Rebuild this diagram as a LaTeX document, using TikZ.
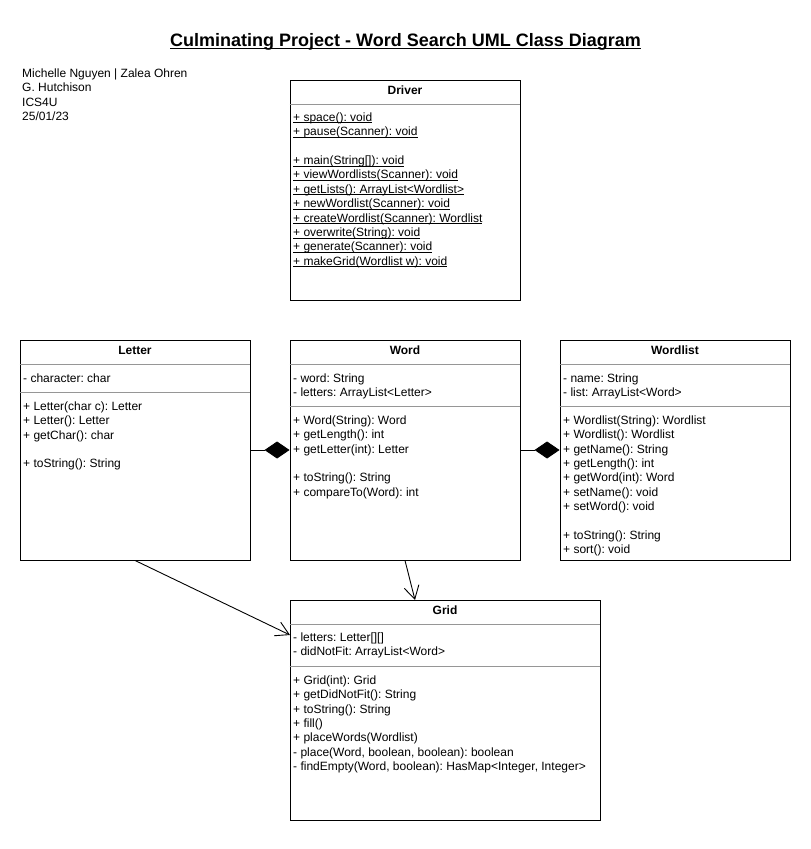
\documentclass[tikz,border=0pt]{standalone}
\usepackage{fontspec}
\setmainfont{Liberation Sans}
\usetikzlibrary{arrows.meta}
\frenchspacing
\definecolor{divgray}{RGB}{150,150,150}
\newcommand{\ulx}[1]{\setbox0\hbox{#1}\rlap{\rule[-1.6pt]{\wd0}{0.6pt}}\box0}
\newcommand{\ultitle}[1]{\setbox0\hbox{#1}\rlap{\rule[-2.6pt]{\wd0}{1.2pt}}\box0}
\tikzset{
  classbox/.style={draw=black, line width=0.9pt, fill=white, inner sep=0pt, minimum width=230pt, minimum height=220pt},
  divider/.style={draw=divgray, line width=0.9pt},
  mtext/.style={anchor=base west, inner sep=0pt, font=\fontsize{12}{14}\selectfont},
  htext/.style={anchor=base, inner sep=0pt, font=\fontsize{12}{14}\selectfont\bfseries},
  conn/.style={draw=black, line width=0.9pt},
  comp/.style={conn, -{Diamond[length=25pt,width=17pt]}},
  dep/.style={conn, -{Straight Barb[length=13pt,width=15pt,line width=0.9pt]}}
}
\begin{document}
\begin{tikzpicture}[x=1pt,y=-1pt]
\useasboundingbox (0,0) rectangle (811,849);

% title
\node[anchor=base, inner sep=0pt, font=\fontsize{18}{21}\selectfont\bfseries] (title) at (405.5,46.5) {\ultitle{Culminating Project - Word Search UML Class Diagram}};

% authors
\foreach \t [count=\i from 0] in {{Michelle Nguyen | Zalea Ohren},{G. Hutchison},{ICS4U},{25/01/23}}
  \node[mtext] (auth\i) at (22,77.3+14.4*\i) {\t};

% Driver
\node[classbox] (driver) at (405,190) {};
\draw[divider] (driver.west |- 0,104) -- (driver.east |- 0,104);
\node[htext] (driverh) at (405,94.3) {Driver};
\foreach \t [count=\i from 0] in {{+ space(): void},{+ pause(Scanner): void}}
  \node[mtext] (drv\i) at (293,121.3+14.4*\i) {\ulx{\t}};
\foreach \t [count=\i from 0] in {{+ main(String[]): void},{+ viewWordlists(Scanner): void},{+ getLists(): ArrayList<Wordlist>},{+ newWordlist(Scanner): void},{+ createWordlist(Scanner): Wordlist},{+ overwrite(String): void},{+ generate(Scanner): void},{+ makeGrid(Wordlist w): void}}
  \node[mtext] (drm\i) at (293,164.5+14.4*\i) {\ulx{\t}};

% Letter
\node[classbox] (letter) at (135,450) {};
\draw[divider] (letter.west |- 0,364) -- (letter.east |- 0,364);
\draw[divider] (letter.west |- 0,392) -- (letter.east |- 0,392);
\node[htext] (letterh) at (135,354.3) {Letter};
\node[mtext] (leta0) at (23,382.3) {- character: char};
\foreach \t/\y [count=\i from 0] in {{+ Letter(char c): Letter}/0,{+ Letter(): Letter}/1,{+ getChar(): char}/2,{+ toString(): String}/4}
  \node[mtext] (letm\i) at (23,410.3+14.4*\y) {\t};

% Word
\node[classbox] (word) at (405,450) {};
\draw[divider] (word.west |- 0,364) -- (word.east |- 0,364);
\draw[divider] (word.west |- 0,406.5) -- (word.east |- 0,406.5);
\node[htext] (wordh) at (405,354.3) {Word};
\foreach \t [count=\i from 0] in {{- word: String},{- letters: ArrayList<Letter>}}
  \node[mtext] (wa\i) at (293,382.3+14.4*\i) {\t};
\foreach \t/\y [count=\i from 0] in {{+ Word(String): Word}/0,{+ getLength(): int}/1,{+ getLetter(int): Letter}/2,{+ toString(): String}/4,{+ compareTo(Word): int}/5}
  \node[mtext] (wm\i) at (293,424.3+14.4*\y) {\t};

% Wordlist
\node[classbox] (wordlist) at (675,450) {};
\draw[divider] (wordlist.west |- 0,364) -- (wordlist.east |- 0,364);
\draw[divider] (wordlist.west |- 0,406.5) -- (wordlist.east |- 0,406.5);
\node[htext] (wordlisth) at (675,354.3) {Wordlist};
\foreach \t [count=\i from 0] in {{- name: String},{- list: ArrayList<Word>}}
  \node[mtext] (wla\i) at (563,382.3+14.4*\i) {\t};
\foreach \t/\y [count=\i from 0] in {{+ Wordlist(String): Wordlist}/0,{+ Wordlist(): Wordlist}/1,{+ getName(): String}/2,{+ getLength(): int}/3,{+ getWord(int): Word}/4,{+ setName(): void}/5,{+ setWord(): void}/6,{+ toString(): String}/8,{+ sort(): void}/9}
  \node[mtext] (wlm\i) at (563,424.3+14.4*\y) {\t};

% Grid
\node[classbox, minimum width=310pt] (grid) at (445,710) {};
\draw[divider] (grid.west |- 0,624) -- (grid.east |- 0,624);
\draw[divider] (grid.west |- 0,666.5) -- (grid.east |- 0,666.5);
\node[htext] (gridh) at (445,614.3) {Grid};
\foreach \t [count=\i from 0] in {{- letters: Letter[][]},{- didNotFit: ArrayList<Word>}}
  \node[mtext] (ga\i) at (293,641.3+14.4*\i) {\t};
\foreach \t [count=\i from 0] in {{+ Grid(int): Grid},{+ getDidNotFit(): String},{+ toString(): String},{+ fill()},{+ placeWords(Wordlist)},{- place(Word, boolean, boolean): boolean},{- findEmpty(Word, boolean): HasMap<Integer, Integer>}}
  \node[mtext] (gm\i) at (293,684.3+14.4*\i) {\t};

% connectors
\coordinate (gridin1) at (290,635);
\coordinate (gridin2) at (415,600);
\draw[comp] (letter.east) -- (word.west);
\draw[comp] (word.east) -- (wordlist.west);
\draw[dep] (letter.south) -- (gridin1);
\draw[dep] (word.south) -- (gridin2);
\end{tikzpicture}
\end{document}
